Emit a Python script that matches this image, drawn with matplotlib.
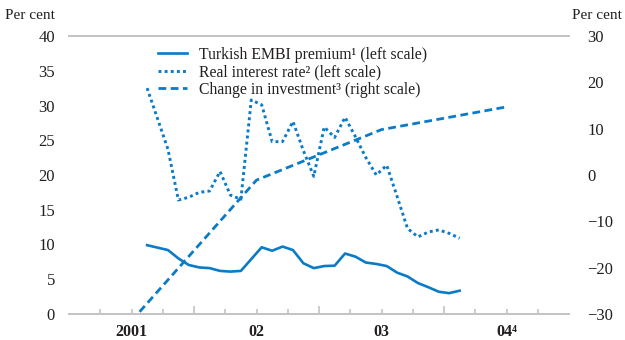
import matplotlib
matplotlib.use("Agg")
import matplotlib.pyplot as plt
import numpy as np
from matplotlib.lines import Line2D

plt.rcParams['font.family'] = ['Liberation Serif', 'DejaVu Serif']

# monthly data, Aug 2001 - Feb 2004
months = np.arange(7, 38)  # month index, 0 = Jan 2001
embi = [9.9, 9.55, 9.2, 8.0, 7.05, 6.7, 6.6, 6.2, 6.1, 6.2, 7.9, 9.6, 9.1, 9.7, 9.2,
        7.3, 6.6, 6.9, 6.95, 8.7, 8.25, 7.4, 7.2, 6.9, 5.95, 5.4, 4.45, 3.85, 3.2, 3.0, 3.35]
real_rate = [32.5, 28.1, 23.7, 16.4, 16.8, 17.5, 17.7, 20.5, 17.1, 16.5, 30.8, 30.1, 24.8,
             24.8, 27.7, 23.5, 19.8, 26.9, 25.4, 28.3, 25.5, 22.5, 20.0, 21.4, 16.9, 12.3,
             11.1, 11.8, 12.1, 11.6, 10.9]
# annual data
years = [2001, 2002, 2003, 2004]
investment = [-31.5, -1.1, 9.8, 14.7]

year_labels = ['2001', '02', '03', '04⁴']
blue = '#0a7bc6'
grey = '#c4c4c4'
txt = '#231f20'

x_month = 2001 + (months + 0.5) / 12
x_year = np.array(years) + 0.5

fig = plt.figure(figsize=(6.25, 3.4), dpi=100)
ax = fig.add_axes([0.1104, 0.0765, 0.8, 0.8176])
ax2 = ax.twinx()

ax.plot(x_month, embi, color=blue, lw=1.9, solid_joinstyle='round')
ax.plot(x_month, real_rate, color=blue, lw=2.1, dashes=(1.0, 1.1))
ax2.plot(x_year, investment, color=blue, lw=2.0, dashes=(2.8, 1.6))

ax.set_xlim(2001, 2005)
ax.set_ylim(0, 40)
ax2.set_ylim(-30, 30)
ax.set_yticks(np.arange(0, 41, 5))
ax2.set_yticks(np.arange(-30, 31, 10))

for a in (ax, ax2):
    for s in ('left', 'right'):
        a.spines[s].set_visible(False)
    a.spines['top'].set_color(grey)
    a.spines['bottom'].set_color(grey)
    a.spines['top'].set_linewidth(1.3)
    a.spines['bottom'].set_linewidth(1.3)
    a.tick_params(axis='y', length=0, labelsize=12, labelcolor=txt)

ax.tick_params(axis='y', pad=10)
ax2.tick_params(axis='y', pad=13)

# year ticks (long) and quarter ticks (short)
ax.set_xticks([2002, 2003, 2004])
ax.set_xticks([y + q for y in years for q in (0.25, 0.5, 0.75)], minor=True)
ax.tick_params(axis='x', which='major', direction='in', length=6, width=1.2,
               color=grey, labelbottom=False)
ax.tick_params(axis='x', which='minor', direction='in', length=3.5, width=1.2,
               color=grey, labelbottom=False)
for y, lab in zip(x_year, year_labels):
    ax.text(y, -0.065, lab, transform=ax.get_xaxis_transform(), ha='center',
            va='center', fontsize=11.5, fontweight='bold', color=txt)

fig.text(0.008, 0.955, 'Per cent', fontsize=11, color=txt, ha='left', va='center')
fig.text(0.995, 0.955, 'Per cent', fontsize=11, color=txt, ha='right', va='center')

handles = [Line2D([], [], color=blue, lw=1.9),
           Line2D([], [], color=blue, lw=2.1, dashes=(1.0, 1.1)),
           Line2D([], [], color=blue, lw=2.0, dashes=(2.8, 1.6))]
labels = ['Turkish EMBI premium¹ (left scale)',
          'Real interest rate² (left scale)',
          'Change in investment³ (right scale)']
ax2.legend(handles, labels, loc='upper left', bbox_to_anchor=(0.163, 0.99),
           frameon=False, fontsize=11.3, handlelength=1.85, handletextpad=0.75,
           labelspacing=0.1, borderpad=0, labelcolor=txt)

fig.savefig('out.png', dpi=100)
